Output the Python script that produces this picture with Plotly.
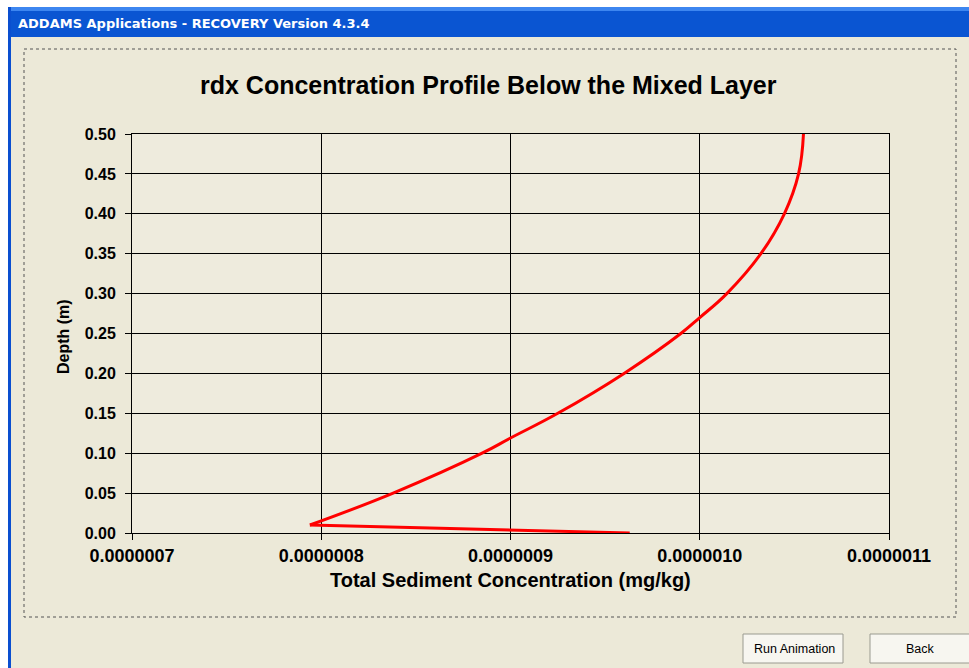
import plotly.graph_objects as go

# Concentration profile below the mixed layer
depth_surface = [0.00, 0.01]
conc_surface = [9.63e-7, 7.94e-7]

depth_profile = [0.01, 0.05, 0.10, 0.119, 0.15, 0.20, 0.25, 0.27, 0.30, 0.35, 0.40, 0.45, 0.50]
conc_profile = [7.94e-7, 8.38e-7, 8.85e-7, 9.00e-7, 9.25e-7, 9.60e-7, 9.90e-7, 1.000e-6,
                1.0143e-6, 1.0323e-6, 1.0447e-6, 1.0522e-6, 1.0548e-6]

x_ticks = [7e-7, 8e-7, 9e-7, 1.0e-6, 1.1e-6]
x_tick_labels = ["0.0000007", "0.0000008", "0.0000009", "0.0000010", "0.0000011"]
y_ticks = [0.00, 0.05, 0.10, 0.15, 0.20, 0.25, 0.30, 0.35, 0.40, 0.45, 0.50]

W, H = 969, 668
L, R, T, B = 132, 80, 134, 135
PW, PH = W - L - R, H - T - B


def px(x):
    return (x - L) / PW


def py(y):
    return (H - B - y) / PH


fig = go.Figure()
for xs, ys, sm in [(conc_surface, depth_surface, 0.0), (conc_profile, depth_profile, 1.2)]:
    fig.add_trace(go.Scatter(
        x=xs, y=ys, mode="lines",
        line=dict(color="#FF0000", width=3, shape="spline", smoothing=sm),
        showlegend=False, hoverinfo="skip",
    ))

bold = dict(family="Liberation Sans, Arial, sans-serif", color="#000000", weight="bold")

shapes = [
    # window caption bar
    dict(type="rect", xref="paper", yref="paper", x0=px(0), x1=px(W), y0=py(7), y1=py(37),
         fillcolor="#0A55D2", line_width=0, layer="below"),
    dict(type="rect", xref="paper", yref="paper", x0=px(0), x1=px(W), y0=py(7), y1=py(11),
         fillcolor="#3D86F0", line_width=0, layer="below"),
    dict(type="rect", xref="paper", yref="paper", x0=px(0), x1=px(W), y0=py(0), y1=py(7),
         fillcolor="#FFFFFF", line_width=0, layer="below"),
    # left window frame
    dict(type="rect", xref="paper", yref="paper", x0=px(0), x1=px(8), y0=py(7), y1=py(H),
         fillcolor="#FFFFFF", line_width=0, layer="below"),
    dict(type="rect", xref="paper", yref="paper", x0=px(8), x1=px(11), y0=py(7), y1=py(H),
         fillcolor="#0A4FD0", line_width=0, layer="below"),
    # chart frame
    dict(type="rect", xref="paper", yref="paper", x0=px(24), x1=px(956), y0=py(49), y1=py(617),
         line=dict(color="#555555", width=1, dash="dot"), fillcolor="rgba(0,0,0,0)", layer="below"),
    # buttons
    dict(type="rect", xref="paper", yref="paper", x0=px(743), x1=px(843), y0=py(634), y1=py(663),
         fillcolor="#F7F6F0", line=dict(color="#9A9A90", width=1), layer="below"),
    dict(type="rect", xref="paper", yref="paper", x0=px(870), x1=px(975), y0=py(634), y1=py(663),
         fillcolor="#F7F6F0", line=dict(color="#9A9A90", width=1), layer="below"),
]

annotations = [
    dict(text="ADDAMS Applications - RECOVERY Version 4.3.4", xref="paper", yref="paper",
         x=px(16), y=py(24), xanchor="left", yanchor="middle", showarrow=False,
         font=dict(family="DejaVu Sans, Verdana, sans-serif", size=13, color="#FFFFFF", weight="bold")),
    dict(text="rdx Concentration Profile Below the Mixed Layer", xref="paper", yref="paper",
         x=px(488), y=py(85), xanchor="center", yanchor="middle", showarrow=False,
         font=dict(bold, size=25)),
    dict(text="Total Sediment Concentration (mg/kg)", xref="paper", yref="paper",
         x=px(510), y=py(580), xanchor="center", yanchor="middle", showarrow=False,
         font=dict(bold, size=20)),
    dict(text="Depth (m)", xref="paper", yref="paper", textangle=-90,
         x=px(63), y=py(337), xanchor="center", yanchor="middle", showarrow=False,
         font=dict(bold, size=16)),
    dict(text="Run Animation", xref="paper", yref="paper",
         x=px(794), y=py(649), xanchor="center", yanchor="middle", showarrow=False,
         font=dict(family="Liberation Sans, Arial, sans-serif", size=12.5, color="#000000")),
    dict(text="Back", xref="paper", yref="paper",
         x=px(920), y=py(649), xanchor="center", yanchor="middle", showarrow=False,
         font=dict(family="Liberation Sans, Arial, sans-serif", size=12.5, color="#000000")),
]

fig.update_layout(
    width=W, height=H,
    margin=dict(l=L, r=R, t=T, b=B, pad=0),
    paper_bgcolor="#ECE9D8",
    plot_bgcolor="#EEEBDD",
    shapes=shapes,
    annotations=annotations,
    xaxis=dict(
        range=[7e-7, 1.1e-6], tickvals=x_ticks, ticktext=x_tick_labels,
        showgrid=True, gridcolor="#000000", gridwidth=1,
        showline=True, linecolor="#000000", linewidth=1, mirror=True,
        ticks="outside", ticklen=6, tickcolor="#000000",
        tickfont=dict(bold, size=18), zeroline=False, fixedrange=True,
    ),
    yaxis=dict(
        range=[0, 0.5], tickvals=y_ticks, tickformat=".2f",
        showgrid=True, gridcolor="#000000", gridwidth=1,
        showline=True, linecolor="#000000", linewidth=1, mirror=True,
        ticks="outside", ticklen=6, tickcolor="#000000",
        tickfont=dict(bold, size=16), zeroline=False, fixedrange=True,
        ticklabelstandoff=6,
    ),
)

fig.write_html("out.html")
